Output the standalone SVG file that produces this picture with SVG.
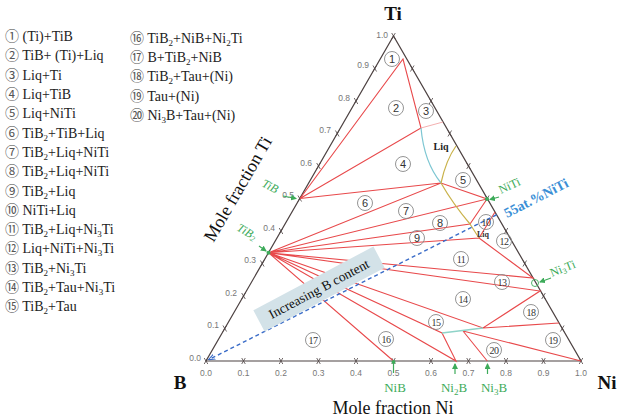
<svg xmlns="http://www.w3.org/2000/svg" width="620" height="419" viewBox="0 0 620 419">
<defs>
<style>
.leg{font-family:"Liberation Serif","Times New Roman",serif;font-size:14px;fill:#222}
.cn{font-family:"Noto Sans CJK JP","DejaVu Sans",sans-serif;font-size:14px;fill:#555}
.ax{stroke:#4d4242;stroke-width:1.2;fill:none}
.tk{stroke:#4d4242;stroke-width:0.8;fill:none}
.tl{font-family:"Liberation Sans",Arial,sans-serif;font-size:8.5px;fill:#777}
.red{stroke:#e8494b;stroke-width:1.1;fill:none}
.lab circle{fill:none;stroke:#888;stroke-width:0.9}
.lab text{font-family:"Liberation Sans",Arial,sans-serif;font-size:11px;fill:#333;text-anchor:middle}
.lab text.d2{font-family:"Liberation Serif",serif;font-size:10px;letter-spacing:-0.6px}
.grn{font-family:"Liberation Serif",serif;fill:#3dab5a;font-size:13px}
.gl{stroke:#3dab5a;stroke-width:1.2;fill:none}
.title{font-family:"Liberation Serif",serif;font-weight:bold;font-size:19px;fill:#111}
.mf{font-family:"Liberation Serif",serif;font-size:18px;fill:#111}
</style>
<marker id="ga" viewBox="0 0 6 6" refX="5" refY="3" markerWidth="5" markerHeight="5" orient="auto"><path d="M0,0 L6,3 L0,6 z" fill="#3dab5a"/></marker>
<marker id="ba" viewBox="0 0 8 8" refX="7" refY="4" markerWidth="5" markerHeight="5" orient="auto"><path d="M0,1 L8,4 L0,7" fill="none" stroke="#3a6cc8" stroke-width="1.2"/></marker>
<path id="x" d="M-1.8,-3L1.8,3M1.8,-3L-1.8,3"/>
</defs>

<g id="legend" class="leg">
<text x="5" y="41"><tspan class="cn">①</tspan> (Ti)+TiB</text>
<text x="5" y="60"><tspan class="cn">②</tspan> TiB+ (Ti)+Liq</text>
<text x="5" y="80"><tspan class="cn">③</tspan> Liq+Ti</text>
<text x="5" y="99"><tspan class="cn">④</tspan> Liq+TiB</text>
<text x="5" y="118"><tspan class="cn">⑤</tspan> Liq+NiTi</text>
<text x="5" y="138"><tspan class="cn">⑥</tspan> TiB<tspan font-size="9" dy="3">2</tspan><tspan dy="-3">+TiB+Liq</tspan></text>
<text x="5" y="157"><tspan class="cn">⑦</tspan> TiB<tspan font-size="9" dy="3">2</tspan><tspan dy="-3">+Liq+NiTi</tspan></text>
<text x="5" y="176"><tspan class="cn">⑧</tspan> TiB<tspan font-size="9" dy="3">2</tspan><tspan dy="-3">+Liq+NiTi</tspan></text>
<text x="5" y="196"><tspan class="cn">⑨</tspan> TiB<tspan font-size="9" dy="3">2</tspan><tspan dy="-3">+Liq</tspan></text>
<text x="5" y="215"><tspan class="cn">⑩</tspan> NiTi+Liq</text>
<text x="5" y="234"><tspan class="cn">⑪</tspan> TiB<tspan font-size="9" dy="3">2</tspan><tspan dy="-3">+Liq+Ni</tspan><tspan font-size="9" dy="3">3</tspan><tspan dy="-3">Ti</tspan></text>
<text x="5" y="253"><tspan class="cn">⑫</tspan> Liq+NiTi+Ni<tspan font-size="9" dy="3">3</tspan><tspan dy="-3">Ti</tspan></text>
<text x="5" y="273"><tspan class="cn">⑬</tspan> TiB<tspan font-size="9" dy="3">2</tspan><tspan dy="-3">+Ni</tspan><tspan font-size="9" dy="3">3</tspan><tspan dy="-3">Ti</tspan></text>
<text x="5" y="292"><tspan class="cn">⑭</tspan> TiB<tspan font-size="9" dy="3">2</tspan><tspan dy="-3">+Tau+Ni</tspan><tspan font-size="9" dy="3">3</tspan><tspan dy="-3">Ti</tspan></text>
<text x="5" y="311"><tspan class="cn">⑮</tspan> TiB<tspan font-size="9" dy="3">2</tspan><tspan dy="-3">+Tau</tspan></text>
<text x="130" y="43"><tspan class="cn">⑯</tspan> TiB<tspan font-size="9" dy="3">2</tspan><tspan dy="-3">+NiB+Ni</tspan><tspan font-size="9" dy="3">2</tspan><tspan dy="-3">Ti</tspan></text>
<text x="130" y="62"><tspan class="cn">⑰</tspan> B+TiB<tspan font-size="9" dy="3">2</tspan><tspan dy="-3">+NiB</tspan></text>
<text x="130" y="81"><tspan class="cn">⑱</tspan> TiB<tspan font-size="9" dy="3">2</tspan><tspan dy="-3">+Tau+(Ni)</tspan></text>
<text x="130" y="101"><tspan class="cn">⑲</tspan> Tau+(Ni)</text>
<text x="130" y="120"><tspan class="cn">⑳</tspan> Ni<tspan font-size="9" dy="3">3</tspan><tspan dy="-3">B+Tau+(Ni)</tspan></text>
</g>

<g id="axes">
<path class="ax" d="M206,361 L581,361 L393.5,36 Z"/>
<g class="tk">
<use href="#x" x="206" y="361"/><use href="#x" x="243.5" y="361"/><use href="#x" x="281" y="361"/><use href="#x" x="318.5" y="361"/><use href="#x" x="356" y="361"/><use href="#x" x="393.5" y="361"/><use href="#x" x="431" y="361"/><use href="#x" x="468.5" y="361"/><use href="#x" x="506" y="361"/><use href="#x" x="543.5" y="361"/><use href="#x" x="581" y="361"/>
<use href="#x" x="224.75" y="328.5"/><use href="#x" x="243.5" y="296"/><use href="#x" x="262.25" y="263.5"/><use href="#x" x="281" y="231"/><use href="#x" x="299.75" y="198.5"/><use href="#x" x="318.5" y="166"/><use href="#x" x="337.25" y="133.5"/><use href="#x" x="356" y="101"/><use href="#x" x="374.75" y="68.5"/><use href="#x" x="393.5" y="36"/>
<use href="#x" x="412.25" y="68.5"/><use href="#x" x="431" y="101"/><use href="#x" x="449.75" y="133.5"/><use href="#x" x="468.5" y="166"/><use href="#x" x="487.25" y="198.5"/><use href="#x" x="506" y="231"/><use href="#x" x="524.75" y="263.5"/><use href="#x" x="543.5" y="296"/><use href="#x" x="562.25" y="328.5"/>
</g>
<g class="tl" text-anchor="middle">
<text x="206" y="376">0.0</text><text x="243.5" y="376">0.1</text><text x="281" y="376">0.2</text><text x="318.5" y="376">0.3</text><text x="356" y="376">0.4</text><text x="393.5" y="376">0.5</text><text x="431" y="376">0.6</text><text x="468.5" y="376">0.7</text><text x="506" y="376">0.8</text><text x="543.5" y="376">0.9</text><text x="581" y="376">1.0</text>
</g>
<g class="tl" text-anchor="end">
<text x="201" y="361">0.0</text><text x="219" y="328">0.1</text><text x="237" y="296">0.2</text><text x="256" y="263">0.3</text><text x="275" y="231">0.4</text><text x="294" y="198">0.5</text><text x="312" y="166">0.6</text><text x="331" y="133">0.7</text><text x="350" y="101">0.8</text><text x="369" y="68">0.9</text><text x="388" y="38">1.0</text>
</g>
<text class="title" x="393" y="20" text-anchor="middle">Ti</text>
<text class="title" x="180" y="389" text-anchor="middle">B</text>
<text class="title" x="607" y="389" text-anchor="middle">Ni</text>
<text class="mf" x="393" y="414" text-anchor="middle">Mole fraction Ni</text>
<text class="mf" transform="translate(243,192) rotate(-60)" text-anchor="middle">Mole fraction Ti</text>
</g>

<g id="connectors">
<path class="red" d="M300,198.5L403,59L421,128L300,198.5M300,198.5L441,183M268.5,252.7L441,183L487,199L268.5,252.7M268.5,252.7L470,224L487,199M268.5,252.7L479,238L495,212M479,238L533,278L268.5,252.7M268.5,252.7L540,291L483,328L268.5,252.7M483,328L559,323M268.5,252.7L442,333L456,361L268.5,252.7M268.5,252.7L393.5,361M463,331L487.25,361M463,331L581,361"/>
<path d="M421,128L443,122" stroke="#f4b0b0" stroke-width="1" fill="none"/>
<path d="M421,128Q424,162 441,183" stroke="#7cc6d2" stroke-width="1.2" fill="none"/>
<path d="M441,183Q446,160 456,146M441,183Q453,204 470,224L479,238" stroke="#c9b24a" stroke-width="1.2" fill="none"/>
<path d="M442,333L483,328" stroke="#8fd3c8" stroke-width="1.3" fill="none"/>
<path d="M496.6,214.75L209,359.5" stroke="#3a6cc8" stroke-width="1.4" stroke-dasharray="4,3" fill="none" marker-end="url(#ba)"/>
</g>

<g id="annotations">
<text transform="translate(441,150)" font-family="Liberation Serif,serif" font-size="10" font-weight="bold" fill="#222" text-anchor="middle">Liq</text>
<text transform="translate(483,237)" font-family="Liberation Serif,serif" font-size="8" font-weight="bold" fill="#333" text-anchor="middle">Liq</text>
<text transform="translate(507,218) rotate(-27)" font-family="Liberation Serif,serif" font-size="14" font-weight="bold" fill="#3a8fd6">55at.%NiTi</text>
<g transform="translate(319,289) rotate(-28)">
<rect x="-68" y="-12" width="136" height="24" fill="#d3e2e8"/>
<text x="0" y="4.5" font-family="Liberation Serif,serif" font-size="13.5" fill="#111" text-anchor="middle">Increasing B content</text>
</g>
</g>

<g id="phases">
<g class="grn">
<text transform="translate(261,186) rotate(27)" font-style="italic" font-size="12">TiB</text>
<path class="gl" d="M283,196L296,198.5" marker-end="url(#ga)"/>
<text transform="translate(236,230) rotate(30)" font-style="italic" font-size="12">TiB<tspan font-size="8" dy="2">2</tspan></text>
<path class="gl" d="M259,246L266,251" marker-end="url(#ga)"/>
<circle cx="268.5" cy="252.7" r="2" fill="#3dab5a"/>
<circle cx="487" cy="199" r="2" fill="#3dab5a"/>
<path class="gl" d="M499,197L490,199.5" marker-end="url(#ga)"/>
<text transform="translate(501,194) rotate(-25)" font-size="12">NiTi</text>
<circle cx="535" cy="283" r="3.5" fill="none" stroke="#3dab5a" stroke-width="0.9"/>
<path class="gl" d="M551,278L540,282" marker-end="url(#ga)"/>
<text transform="translate(552,277) rotate(-22)" font-size="12">Ni<tspan font-size="8" dy="2">3</tspan><tspan dy="-2">Ti</tspan></text>
<circle cx="393.5" cy="362" r="2" fill="#3dab5a"/>
<path class="gl" d="M393.5,362V373"/>
<text x="395" y="392" text-anchor="middle">NiB</text>
<path class="gl" d="M455,374V364" marker-end="url(#ga)"/>
<text x="454" y="392" text-anchor="middle">Ni<tspan font-size="9" dy="3">2</tspan><tspan dy="-3">B</tspan></text>
<path class="gl" d="M487.5,374V364" marker-end="url(#ga)"/>
<text x="494" y="392" text-anchor="middle">Ni<tspan font-size="9" dy="3">3</tspan><tspan dy="-3">B</tspan></text>
</g>
</g>

<g id="regions" class="lab">
<g id="r1"><circle cx="392" cy="59" r="7.5"/><text x="392" y="63">1</text></g>
<g id="r2"><circle cx="396" cy="108" r="7.5"/><text x="396" y="112">2</text></g>
<g id="r3"><circle cx="426" cy="111" r="7.5"/><text x="426" y="115">3</text></g>
<g id="r4"><circle cx="403" cy="164" r="7.5"/><text x="403" y="168">4</text></g>
<g id="r5"><circle cx="463" cy="180" r="7.5"/><text x="463" y="184">5</text></g>
<g id="r6"><circle cx="365" cy="203" r="7.5"/><text x="365" y="207">6</text></g>
<g id="r7"><circle cx="406" cy="211" r="7.5"/><text x="406" y="215">7</text></g>
<g id="r8"><circle cx="440" cy="223" r="7.5"/><text x="440" y="227">8</text></g>
<g id="r9"><circle cx="417" cy="238" r="7.5"/><text x="417" y="242">9</text></g>
<g id="r10"><circle cx="486" cy="222" r="7.5"/><text class="d2" x="486" y="225.5">10</text></g>
<g id="r11"><circle cx="461" cy="259" r="7.5"/><text class="d2" x="461" y="262.5">11</text></g>
<g id="r12"><circle cx="504" cy="241" r="7.5"/><text class="d2" x="504" y="244.5">12</text></g>
<g id="r13"><circle cx="502" cy="282" r="7.5"/><text class="d2" x="502" y="285.5">13</text></g>
<g id="r14"><circle cx="463" cy="299" r="7.5"/><text class="d2" x="463" y="302.5">14</text></g>
<g id="r15"><circle cx="436" cy="322" r="7.5"/><text class="d2" x="436" y="325.5">15</text></g>
<g id="r16"><circle cx="386" cy="339" r="7.5"/><text class="d2" x="386" y="342.5">16</text></g>
<g id="r17"><circle cx="313" cy="340" r="7.5"/><text class="d2" x="313" y="343.5">17</text></g>
<g id="r18"><circle cx="531" cy="312" r="7.5"/><text class="d2" x="531" y="315.5">18</text></g>
<g id="r19"><circle cx="553" cy="340" r="7.5"/><text class="d2" x="553" y="343.5">19</text></g>
<g id="r20"><circle cx="494" cy="350" r="7.5"/><text class="d2" x="494" y="353.5">20</text></g>
</g>
</svg>
